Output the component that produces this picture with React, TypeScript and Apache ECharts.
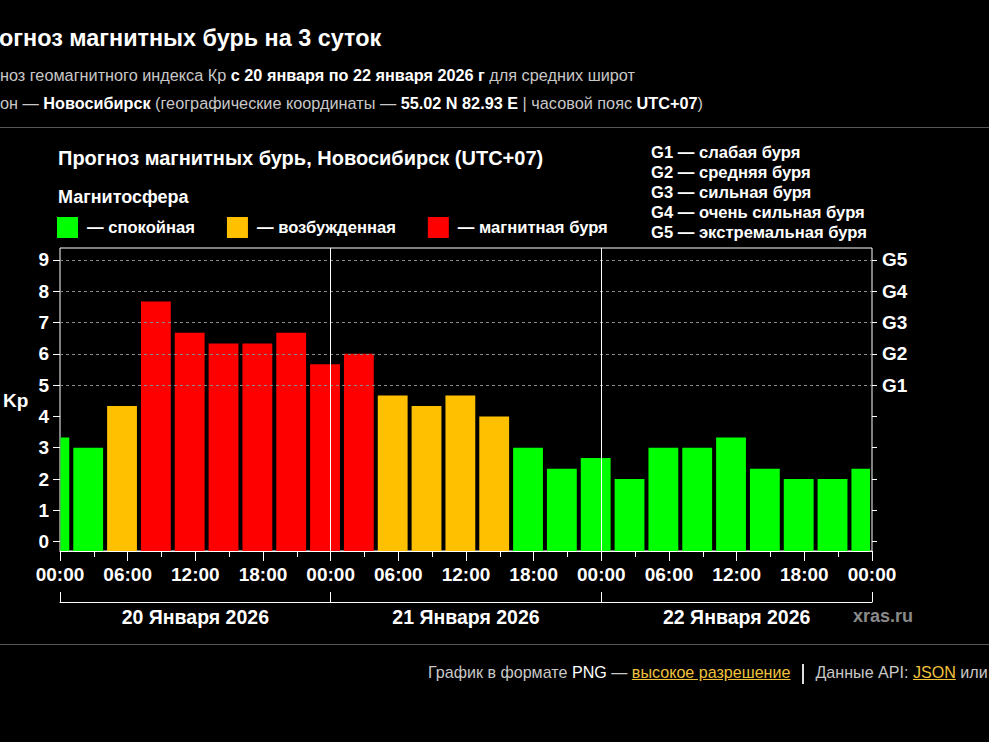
import React, { useEffect, useRef } from "react";
import * as echarts from "echarts";

// ---------------- data ----------------
// 3-hour Kp forecast periods (start hour, counted from 20 Jan 2026 00:00 local UTC+07)
const periodStartHours = [-2, 1, 4, 7, 10, 13, 16, 19, 22, 25, 28, 31, 34, 37, 40, 43, 46, 49, 52, 55, 58, 61, 64, 67, 70];
const periodLengthHours = 3;
const kpValues = [3.33, 3.0, 4.33, 7.67, 6.67, 6.33, 6.33, 6.67, 5.67, 6.0, 4.67, 4.33, 4.67, 4.0, 3.0, 2.33, 2.67, 2.0, 3.0, 3.0, 3.33, 2.33, 2.0, 2.0, 2.33];

const xTickLabels = ["00:00", "06:00", "12:00", "18:00", "00:00", "06:00", "12:00", "18:00", "00:00", "06:00", "12:00", "18:00", "00:00"];
const xTickStepHours = 6;
const dayLabels = ["20 Января 2026", "21 Января 2026", "22 Января 2026"];
const hoursPerDay = 24;

const kpTickValues = [0, 1, 2, 3, 4, 5, 6, 7, 8, 9];
const gLevels = [5, 6, 7, 8, 9];
const gLabels = ["G1", "G2", "G3", "G4", "G5"];
const gDescriptions = ["слабая буря", "средняя буря", "сильная буря", "очень сильная буря", "экстремальная буря"];

const stateNames = ["спокойная", "возбужденная", "магнитная буря"];
const stateColors = ["#00ff00", "#ffc000", "#ff0000"];
const stateLowerBounds = [0, 4, 5];

// ---------------- layout constants ----------------
const X_MIN = 0;
const X_MAX = dayLabels.length * hoursPerDay;
const Y_MIN = -0.3;
const Y_MAX = 9.38;
const FONT = '"Liberation Sans", Arial, Helvetica, sans-serif';

function stateOf(kp: number): number {
  let s = 0;
  stateLowerBounds.forEach((b, i) => {
    if (kp >= b) s = i;
  });
  return s;
}

export default function App() {
  const ref = useRef<HTMLDivElement>(null);

  useEffect(() => {
    document.body.style.margin = "0";
    document.body.style.background = "#000";
    if (!ref.current) return;
    const chart = echarts.init(ref.current, null, { renderer: "svg" });

    const renderBar = (params: any, api: any) => {
      const start = api.value(0) as number;
      const end = api.value(1) as number;
      const kp = api.value(2) as number;
      const s = Math.max(start, X_MIN);
      const e = Math.min(end, X_MAX);
      const top = api.coord([s, kp]);
      const bottom = api.coord([e, Y_MIN]);
      const gapL = start < X_MIN ? 0.5 : 2;
      const gapR = 2;
      const x = top[0] + gapL;
      const w = bottom[0] - gapR - x;
      return {
        type: "rect",
        shape: { x, y: top[1], width: w, height: bottom[1] - top[1] },
        style: { fill: api.visual("color") },
      };
    };

    const barSeries = stateNames.map((name, si) => ({
      type: "custom",
      name,
      xAxisIndex: 0,
      yAxisIndex: 0,
      z: 3,
      color: stateColors[si],
      itemStyle: { color: stateColors[si] },
      renderItem: renderBar,
      encode: { x: [0, 1], y: 2 },
      data: periodStartHours
        .map((h, i) => [h, h + periodLengthHours, kpValues[i]])
        .filter((d) => stateOf(d[2]) === si),
    }));

    const guideSeries = {
      type: "line",
      name: "guides",
      xAxisIndex: 0,
      yAxisIndex: 0,
      z: 1,
      silent: true,
      symbol: "none",
      data: [],
      markLine: {
        silent: true,
        symbol: "none",
        label: { show: false },
        emphasis: { disabled: true },
        data: [
          ...gLevels.map((v) => ({ yAxis: v, lineStyle: { color: "#8a8a8a", type: [3, 3], width: 1 } })),
          ...dayLabels.slice(1).map((_, i) => ({
            xAxis: (i + 1) * hoursPerDay,
            lineStyle: { color: "#ffffff", type: "solid", width: 1 },
          })),
        ],
      },
    };

    const gLegendTexts = gLabels.map((g, i) => ({
      type: "text",
      x: 651,
      y: 152.5 + i * 20,
      style: {
        text: `${g} — ${gDescriptions[i]}`,
        fill: "#ffffff",
        font: `bold 16.6px ${FONT}`,
        verticalAlign: "middle",
      },
    }));

    chart.setOption({
      animation: false,
      backgroundColor: "transparent",
      textStyle: { fontFamily: FONT },
      grid: {
        left: 60,
        right: 117,
        top: 248,
        bottom: 191,
        show: true,
        borderColor: "#ffffff",
        borderWidth: 1,
        backgroundColor: "transparent",
        containLabel: false,
      },
      legend: {
        left: 57,
        top: 217,
        padding: 0,
        itemWidth: 21,
        itemHeight: 21,
        itemGap: 32,
        icon: "rect",
        selectedMode: false,
        data: stateNames,
        formatter: (n: string) => `— ${n}`,
        textStyle: { color: "#ffffff", fontWeight: "bold", fontSize: 16.6, fontFamily: FONT, padding: [0, 0, 0, 4] },
      },
      xAxis: [
        {
          type: "value",
          min: X_MIN,
          max: X_MAX,
          interval: xTickStepHours,
          position: "bottom",
          axisLine: { show: true, onZero: false, lineStyle: { color: "#ffffff" } },
          axisTick: { show: true, length: 10, lineStyle: { color: "#ffffff" } },
          minorTick: { show: true, splitNumber: 2, length: 6, lineStyle: { color: "#ffffff" } },
          splitLine: { show: false },
          minorSplitLine: { show: false },
          axisLabel: {
            color: "#ffffff",
            fontWeight: "bold",
            fontSize: 19,
            fontFamily: FONT,
            margin: 14,
            showMinLabel: true,
            showMaxLabel: true,
            formatter: (v: number) => xTickLabels[Math.round(v / xTickStepHours)] ?? "",
          },
        },
        {
          type: "category",
          data: dayLabels,
          position: "bottom",
          offset: 51,
          boundaryGap: true,
          axisLine: { show: true, onZero: false, lineStyle: { color: "#ffffff" } },
          axisTick: { show: true, inside: true, length: 10, alignWithLabel: false, interval: 0, lineStyle: { color: "#ffffff" } },
          splitLine: { show: false },
          axisLabel: { color: "#ffffff", fontWeight: "bold", fontSize: 19.5, fontFamily: FONT, margin: 5, interval: 0 },
        },
      ],
      yAxis: [
        {
          type: "value",
          min: Y_MIN,
          max: Y_MAX,
          position: "left",
          axisLine: { show: false },
          splitLine: { show: false },
          axisTick: { show: true, length: 7, customValues: kpTickValues, lineStyle: { color: "#ffffff" } },
          axisLabel: {
            customValues: kpTickValues,
            color: "#ffffff",
            fontWeight: "bold",
            fontSize: 19,
            fontFamily: FONT,
            margin: 11,
          },
        },
        {
          type: "value",
          min: Y_MIN,
          max: Y_MAX,
          position: "right",
          axisLine: { show: false },
          splitLine: { show: false },
          axisTick: { show: true, length: 5, customValues: kpTickValues, lineStyle: { color: "#ffffff" } },
          axisLabel: {
            customValues: gLevels,
            formatter: (v: number) => gLabels[gLevels.indexOf(v)] ?? "",
            color: "#ffffff",
            fontWeight: "bold",
            fontSize: 19,
            fontFamily: FONT,
            margin: 10,
          },
        },
      ],
      graphic: [
        {
          type: "text",
          x: 58,
          y: 158,
          style: {
            text: "Прогноз магнитных бурь, Новосибирск (UTC+07)",
            fill: "#ffffff",
            font: `bold 20px ${FONT}`,
            verticalAlign: "middle",
          },
        },
        {
          type: "text",
          x: 58,
          y: 197,
          style: { text: "Магнитосфера", fill: "#ffffff", font: `bold 18px ${FONT}`, verticalAlign: "middle" },
        },
        ...gLegendTexts,
        {
          type: "text",
          x: 3,
          y: 400,
          style: { text: "Kp", fill: "#ffffff", font: `bold 19px ${FONT}`, verticalAlign: "middle" },
        },
        {
          type: "text",
          x: 853,
          y: 616,
          style: { text: "xras.ru", fill: "#8a8a8a", font: `bold 18px ${FONT}`, verticalAlign: "middle" },
        },
      ],
      series: [guideSeries, ...barSeries],
    });

    return () => chart.dispose();
  }, []);

  const pageFont = FONT;
  const gray = "#c8c8c8";
  const gold = "#f0c23c";

  return (
    <div
      style={{
        position: "fixed",
        left: 0,
        top: 0,
        width: 989,
        height: 742,
        background: "#000",
        overflow: "hidden",
        fontFamily: pageFont,
      }}
    >
      <div ref={ref} style={{ position: "absolute", left: 0, top: 0, width: 989, height: 742 }} />
      <div
        style={{
          position: "absolute",
          left: -1,
          top: 24,
          lineHeight: "28px",
          fontSize: 23.4,
          fontWeight: "bold",
          color: "#fff",
          whiteSpace: "nowrap",
        }}
      >
        огноз магнитных бурь на 3 суток
      </div>
      <div
        style={{ position: "absolute", left: 0, top: 65, lineHeight: "20px", fontSize: 16.25, color: gray, whiteSpace: "nowrap" }}
      >
        ноз геомагнитного индекса Кр <b style={{ color: "#fff" }}>с 20 января по 22 января 2026 г</b> для средних широт
      </div>
      <div
        style={{ position: "absolute", left: 0, top: 93, lineHeight: "20px", fontSize: 16.25, color: gray, whiteSpace: "nowrap" }}
      >
        он — <b style={{ color: "#fff" }}>Новосибирск</b> (географические координаты —{" "}
        <b style={{ color: "#fff" }}>55.02 N 82.93 E</b> | часовой пояс <b style={{ color: "#fff" }}>UTC+07</b>)
      </div>
      <div style={{ position: "absolute", left: 0, top: 127, width: 989, height: 1, background: "#555" }} />
      <div style={{ position: "absolute", left: 0, top: 644, width: 989, height: 1, background: "#555" }} />
      <div
        style={{
          position: "absolute",
          left: 428,
          top: 662,
          lineHeight: "20px",
          fontSize: 16.1,
          color: gray,
          whiteSpace: "nowrap",
        }}
      >
        График в формате <span style={{ color: "#fff" }}>PNG</span> —{" "}
        <span style={{ color: gold, textDecoration: "underline" }}>высокое разрешение</span>
        <span
          style={{
            display: "inline-block",
            width: 0,
            height: 20,
            borderLeft: "2px solid #ddd",
            verticalAlign: "middle",
            margin: "0 11px 0 12px",
          }}
        />
        Данные API: <span style={{ color: gold, textDecoration: "underline" }}>JSON</span> или
      </div>
    </div>
  );
}
